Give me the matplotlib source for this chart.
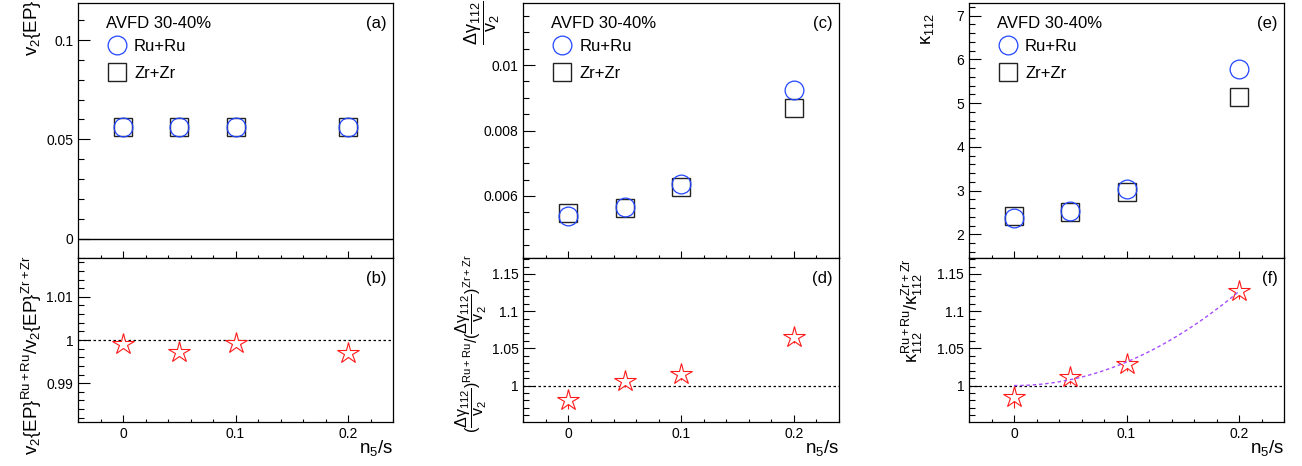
import numpy as np
import matplotlib
matplotlib.use('Agg')
import matplotlib.pyplot as plt
from matplotlib.ticker import MultipleLocator, FuncFormatter

plt.rcParams['font.family'] = ['Liberation Sans', 'DejaVu Sans']
plt.rcParams['mathtext.fontset'] = 'custom'
plt.rcParams['mathtext.rm'] = 'Liberation Sans'
plt.rcParams['mathtext.it'] = 'Liberation Sans'
plt.rcParams['mathtext.bf'] = 'Liberation Sans'

# n5/s values of the AVFD runs
n5s = [0.0, 0.05, 0.1, 0.2]

# v2{EP}
v2_ru = [0.0563, 0.0563, 0.0563, 0.0563]
v2_zr = [0.0560, 0.0560, 0.0560, 0.0560]
v2_ratio = [0.9991, 0.9973, 0.9994, 0.9971]
v2_ratio_err = [0.0004, 0.0004, 0.0004, 0.0004]

# delta gamma_112 / v2
dg_ru = [0.00539, 0.00565, 0.00636, 0.00925]
dg_zr = [0.00549, 0.00563, 0.00627, 0.00869]
dg_ratio = [0.981, 1.0058, 1.0157, 1.065]
dg_ratio_err = [0.013, 0.008, 0.008, 0.008]

# kappa_112
kap_ru = [2.366, 2.54, 3.03, 5.79]
kap_zr = [2.42, 2.52, 2.96, 5.14]
kap_ratio = [0.984, 1.012, 1.029, 1.127]
kap_ratio_err = [0.014, 0.010, 0.010, 0.010]

BLUE = '#2246ff'
RED = '#ff1a1a'
FIT = '#a64dff'

W, H = 1302, 466
fig = plt.figure(figsize=(W / 100, H / 100), dpi=100)

cols = [(78, 393), (523.3, 839), (969, 1284)]
y_top, y_mid, y_bot = 3, 258, 422


def make_axes(x0, x1):
    top = fig.add_axes([x0 / W, 1 - y_mid / H, (x1 - x0) / W, (y_mid - y_top) / H])
    bot = fig.add_axes([x0 / W, 1 - y_bot / H, (x1 - x0) / W, (y_bot - y_mid) / H])
    for ax in (top, bot):
        ax.set_xlim(-0.04, 0.24)
        ax.xaxis.set_major_locator(MultipleLocator(0.1))
        ax.xaxis.set_minor_locator(MultipleLocator(0.02))
        ax.tick_params(which='both', direction='in', top=False, right=False,
                       labelsize=10, pad=3.5)
        ax.tick_params(axis='y', which='major', length=8.5, width=0.8)
        ax.tick_params(axis='y', which='minor', length=4.3, width=0.8)
        ax.tick_params(axis='x', which='major', length=4.8, width=0.8)
        ax.tick_params(axis='x', which='minor', length=2.4, width=0.8)
        ax.yaxis.set_major_formatter(FuncFormatter(lambda v, p: '%g' % round(v, 6)))
        ax.xaxis.set_major_formatter(FuncFormatter(lambda v, p: '%g' % round(v, 6)))
        for s in ax.spines.values():
            s.set_linewidth(0.9)
    top.tick_params(axis='x', labelbottom=False)
    bot.text(1.0, -0.095, r'$\mathrm{n_5/s}$', transform=bot.transAxes,
             ha='right', va='top', fontsize=13.5)
    return top, bot


def top_panel(ax, ru, zr, tag):
    ax.plot(n5s, zr, ls='none', marker='s', ms=13.5, mfc='none', mec='#222222',
            mew=1.0, label='Zr+Zr', zorder=3)
    ax.plot(n5s, ru, ls='none', marker='o', ms=13.5, mfc='none', mec=BLUE,
            mew=0.9, label='Ru+Ru', zorder=4)
    ax.text(0.089, 0.918, 'AVFD 30-40%', transform=ax.transAxes,
            ha='left', va='center', fontsize=12)
    h, l = ax.get_legend_handles_labels()
    ax.legend(h[::-1], l[::-1], loc='upper left', bbox_to_anchor=(0.096, 0.858),
              frameon=False, fontsize=12, handlelength=1.0, handletextpad=0.55,
              labelspacing=0.72, borderaxespad=0, borderpad=0)
    ax.text(0.98, 0.918, tag, transform=ax.transAxes, ha='right', va='center',
            fontsize=12)


def ratio_panel(ax, ratio, err, tag):
    ax.axhline(1.0, color='black', lw=0.9, ls=(0, (2, 2)), zorder=1)
    ax.errorbar(n5s, ratio, yerr=err, ls='none', marker='*', ms=16,
                mfc='white', mec=RED, mew=0.8, ecolor=RED, elinewidth=0.8,
                capsize=0, zorder=3)
    ax.text(0.98, 0.878, tag, transform=ax.transAxes, ha='right', va='center',
            fontsize=12)


# (a), (b): v2{EP}
a, b = make_axes(*cols[0])
top_panel(a, v2_ru, v2_zr, '(a)')
a.axhline(0.0, color='black', lw=1.0, zorder=1)
a.set_ylim(-0.0098, 0.1187)
a.yaxis.set_major_locator(MultipleLocator(0.05))
a.yaxis.set_minor_locator(MultipleLocator(0.01))
a.text(-0.112, 1.012, r'$\mathrm{v_2\{EP\}}$', transform=a.transAxes,
       rotation=90, ha='right', va='top', fontsize=13.5)

ratio_panel(b, v2_ratio, v2_ratio_err, '(b)')
b.set_ylim(0.981, 1.019)
b.yaxis.set_major_locator(MultipleLocator(0.01))
b.yaxis.set_minor_locator(MultipleLocator(0.002))
b.text(-0.108, 1.02, r'$\mathrm{v_2\{EP\}^{Ru+Ru}/v_2\{EP\}^{Zr+Zr}}$',
       transform=b.transAxes, rotation=90, ha='right', va='top', fontsize=13.5)

# (c), (d): delta gamma_112 / v2
c, d = make_axes(*cols[1])
top_panel(c, dg_ru, dg_zr, '(c)')
c.set_ylim(0.0041, 0.0119)
c.yaxis.set_major_locator(MultipleLocator(0.002))
c.yaxis.set_minor_locator(MultipleLocator(0.0005))
c.text(-0.067, 1.012, r'$\mathrm{\dfrac{\Delta\gamma_{112}}{v_2}}$',
       transform=c.transAxes, rotation=90, ha='right', va='top', fontsize=13)

ratio_panel(d, dg_ratio, dg_ratio_err, '(d)')
d.set_ylim(0.951, 1.1715)
d.yaxis.set_major_locator(MultipleLocator(0.05))
d.yaxis.set_minor_locator(MultipleLocator(0.01))
d.text(-0.108, 1.02,
       r'$\mathrm{(\dfrac{\Delta\gamma_{112}}{v_2})^{Ru+Ru}/(\dfrac{\Delta\gamma_{112}}{v_2})^{Zr+Zr}}$',
       transform=d.transAxes, rotation=90, ha='right', va='top', fontsize=11.5)

# (e), (f): kappa_112
e, f = make_axes(*cols[2])
top_panel(e, kap_ru, kap_zr, '(e)')
e.set_ylim(1.46, 7.29)
e.yaxis.set_major_locator(MultipleLocator(1))
e.yaxis.set_minor_locator(MultipleLocator(0.2))
e.text(-0.105, 0.96, r'$\mathrm{\kappa_{112}}$', transform=e.transAxes,
       rotation=90, ha='right', va='top', fontsize=13)

ratio_panel(f, kap_ratio, kap_ratio_err, '(f)')
f.set_ylim(0.951, 1.1715)
f.yaxis.set_major_locator(MultipleLocator(0.05))
f.yaxis.set_minor_locator(MultipleLocator(0.01))
f.text(-0.14, 1.0, r'$\mathrm{\kappa_{112}^{Ru+Ru}/\kappa_{112}^{Zr+Zr}}$',
       transform=f.transAxes, rotation=90, ha='right', va='top', fontsize=13)

# quadratic fit 1 + a*x^2 to the kappa ratio
x = np.array(n5s)
y = np.array(kap_ratio) - 1.0
coef = np.sum(x**2 * y) / np.sum(x**4)
xf = np.linspace(0, max(n5s), 100)
f.plot(xf, 1 + coef * xf**2, color=FIT, lw=1.0, ls=(0, (2.5, 2)), zorder=5)

fig.savefig('out.png', dpi=100)
